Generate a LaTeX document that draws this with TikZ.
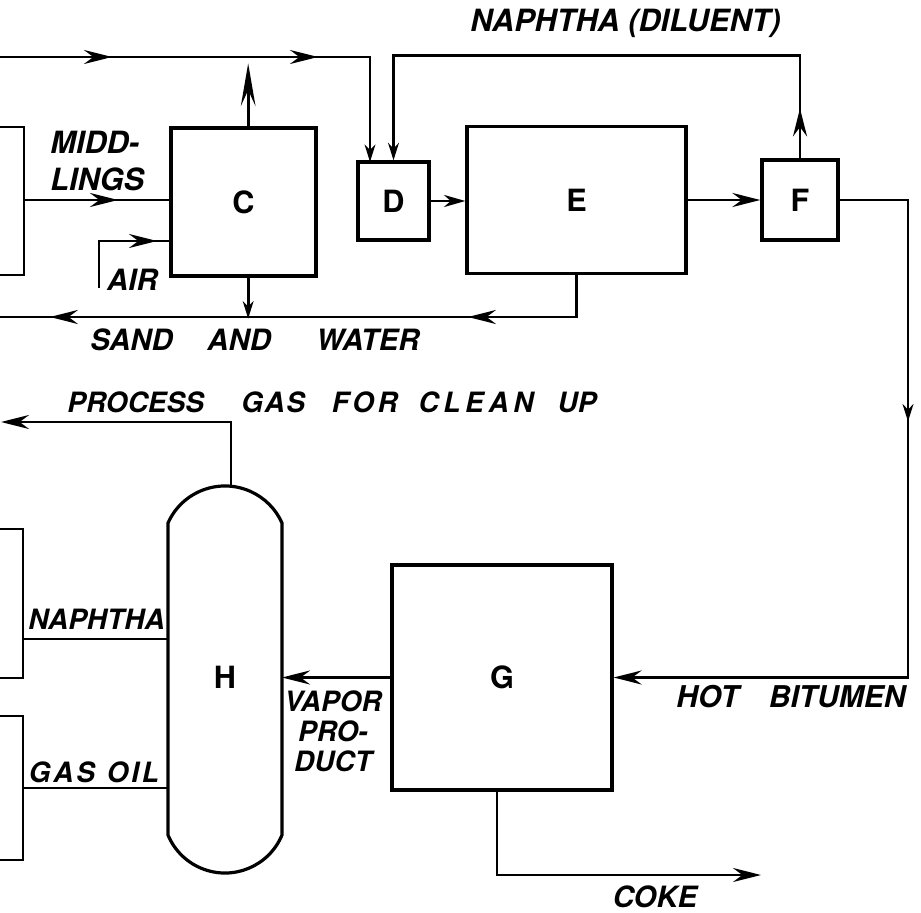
\documentclass[tikz,border=0pt]{standalone}
\usepackage{fontspec}
\setmainfont{TeX Gyre Heros}
\usetikzlibrary{arrows.meta,decorations.markings,calc}
\begin{document}
\begin{tikzpicture}[x=0.75pt,y=-0.75pt,
  line width=2.2pt, line join=miter,
  Big/.tip={Stealth[length=21pt,width=10.5pt,inset=7pt]},
  Mid/.tip={Stealth[length=16pt,width=9pt,inset=5pt]},
  Small/.tip={Stealth[length=13pt,width=8pt,inset=4pt]},
  Long/.tip={Stealth[length=32pt,width=11pt,inset=12pt]},
  arrat/.style={postaction={decorate,decoration={markings,mark=at position #1 with {\arrow{Big}}}}},
  arrsm/.style={postaction={decorate,decoration={markings,mark=at position #1 with {\arrow{Small}}}}},
  box/.style={draw, line width=2.4pt, inner sep=0pt, font=\bfseries\fontsize{23}{27}\selectfont},
  lab/.style={inner sep=0pt, font=\bfseries\itshape\fontsize{22}{27}\selectfont},
  labs/.style={inner sep=0pt, font=\bfseries\itshape\fontsize{21}{22.5}\selectfont}
]
\useasboundingbox (0,0) rectangle (921,913);

% boxes
\node[box, minimum width=108.75pt, minimum height=111pt] (C) at (243.5,202) {C};
\node[box, minimum width=53.25pt, minimum height=58.5pt] (D) at (393.5,201) {D};
\node[box, minimum width=164.25pt, minimum height=110.25pt] (E) at (576.5,200) {E};
\node[box, minimum width=57pt, minimum height=60pt] (F) at (800,200) {F};
\node[box, minimum width=165pt, minimum height=168.75pt] (G) at (502,677.5) {G};

% vessel H
\draw[line width=2.4pt] (168,523) arc[start angle=204,end angle=336,radius=62.4]
  -- (282,835) arc[start angle=22.6,end angle=157.4,radius=61.75] -- cycle;
\node[inner sep=0pt, font=\bfseries\fontsize{23}{27}\selectfont] (H) at (225,677) {H};

% partial boxes at the left edge
\draw (0,127) -| (24,275) -- (0,275);
\draw (0,529) -| (23,678) -- (0,678);
\draw (0,716) -| (23,860) -- (0,860);

% coordinates
\coordinate (tl) at (0,57);
\coordinate (dA) at (370,162);
\coordinate (m0) at (24,200);
\coordinate (a0) at (99,288);
\coordinate (s0) at (0,317);
\coordinate (hb) at (908,677.5);
\coordinate (hR) at (282,677.5);
\coordinate (ck) at (761,875);
\coordinate (ht) at (231,487);
\coordinate (pg) at (1,422);
\coordinate (n0) at (23,639);
\coordinate (n1) at (168,639);
\coordinate (g0) at (23,788);
\coordinate (g1) at (168,788);

% connectors
\draw[arrat=84pt, arrat=238.5pt, -{Small}] (tl) -| (dA);
\draw[arrat=37.5pt, -{Small}] (F.north) -- ++(0,-103) -| (D.north);
\draw[-{Long}] ([xshift=3.5pt]C.north) -- ++(0,-63);
\draw[-{Small}] ([xshift=3.5pt]C.south) -- ++(0,41);
\draw[arrat=70.5pt] (m0) -- (m0 -| C.west);
\draw[arrat=78.75pt] (a0) |- ([yshift=-29.25pt]C.west);
\draw[arrat=112.9pt, arrat=426.4pt] (E.south) |- (s0);
\draw[-{Mid}] (D.east) -- (D.east -| E.west);
\draw[-{Big}] (E.east) -- (E.east -| F.west);
\draw[arrsm=217.5pt, -{Big}] (F.east) -| (hb) -- (G.east);
\draw[-{Big}] (G.west) -- (hR);
\draw[-{Big}] ([xshift=-3.75pt]G.south) |- (ck);
\draw[-{Big}] (ht) |- (pg);
\draw (n0) -- (n1);
\draw (g0) -- (g1);

% labels
\node[lab, font=\bfseries\itshape\fontsize{23}{27}\selectfont] (tNap) at (625.5,23) {NAPHTHA (DILUENT)};
\node[lab, align=left, anchor=west, font=\bfseries\itshape\fontsize{23}{27.75}\selectfont] (tMid) at (49,161.5) {MIDD-\\LINGS};
\node[lab] (tAir) at (132.5,280) {AIR};
\node[lab, anchor=west] (tSand) at (89,340) {SAND\hspace{26pt}AND\hspace{34pt}WATER};
\node[labs, anchor=west] (tPG) at (66,402) {PROCESS\hspace{28pt}G\kern1.2pt A\kern1.2pt S\hspace{20pt}F\kern2.6pt O\kern2.6pt R\hspace{15.5pt}C\kern3.5pt L\kern3.5pt E\kern3.5pt A\kern3.5pt N\hspace{18pt}UP};
\node[lab, anchor=west, font=\bfseries\itshape\fontsize{22.5}{27}\selectfont] (tHot) at (675,697) {HOT\hspace{22.5pt}BITUMEN};
\node[lab] (tCoke) at (655,897) {COKE};
\node[labs, align=center] (tVap) at (333,731) {VAPOR\\PRO-\\DUCT};
\node[labs] (tNap2) at (96.5,619) {NAPHTHA};
\node[labs] (tGas) at (94,772) {G\kern2pt A\kern2pt S\hspace{9pt}O\kern2pt I\kern2pt L};
\end{tikzpicture}
\end{document}
